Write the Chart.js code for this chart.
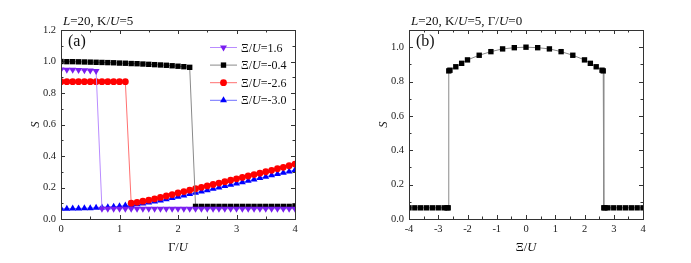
<!DOCTYPE html>
<html lang="en">
<head>
<meta charset="UTF-8" />
<title>S vs Gamma/U and Xi/U</title>
<style>
  * { margin: 0; padding: 0; }
  body { background: #fff; width: 691px; height: 263px; position: relative; overflow: hidden; }
  .box { position: absolute; top: 0; height: 263px; }
</style>
</head>
<body>
<div class="box" style="left:0;width:345px"><canvas id="chartA" width="345" height="263"></canvas></div>
<div class="box" style="left:345px;width:346px"><canvas id="chartB" width="346" height="263"></canvas></div>

<script src="https://cdn.jsdelivr.net/npm/chart.js"></script>
<script>
// ---- panel (a) data: S vs Gamma/U ----
const gamma = [0, 0.1, 0.2, 0.3, 0.4, 0.5, 0.6, 0.7, 0.8, 0.9, 1.0,
  1.1, 1.2, 1.3, 1.4, 1.5, 1.6, 1.7, 1.8, 1.9, 2.0,
  2.1, 2.2, 2.3, 2.4, 2.5, 2.6, 2.7, 2.8, 2.9, 3.0,
  3.1, 3.2, 3.3, 3.4, 3.5, 3.6, 3.7, 3.8, 3.9, 4.0];

const legendXi = ['1.6', '-0.4', '-2.6', '-3.0'];

const sXi16 = [0.950, 0.948, 0.947, 0.946, 0.945, 0.943, 0.940,
  0.065, 0.065, 0.065, 0.065, 0.065, 0.065, 0.065, 0.065, 0.065, 0.065,
  0.065, 0.065, 0.065, 0.065, 0.065, 0.065, 0.065, 0.065, 0.065, 0.065,
  0.065, 0.065, 0.065, 0.065, 0.065, 0.065, 0.065, 0.065, 0.065, 0.065,
  0.065, 0.065, 0.065, 0.065];
const sXiM04 = [1.000, 0.999, 0.999, 0.998, 0.997, 0.996, 0.995, 0.994, 0.993, 0.992, 0.990,
  0.989, 0.987, 0.986, 0.984, 0.982, 0.980, 0.978, 0.976, 0.973, 0.970,
  0.967, 0.963,
  0.080, 0.080, 0.080, 0.080, 0.080, 0.080, 0.080, 0.080,
  0.080, 0.080, 0.080, 0.080, 0.080, 0.080, 0.080, 0.080, 0.080, 0.080];
const sXiM26 = [0.872, 0.872, 0.872, 0.872, 0.872, 0.872, 0.872, 0.872, 0.872, 0.872, 0.872, 0.872,
  0.100, 0.106, 0.113, 0.120, 0.128, 0.137, 0.146, 0.155, 0.165,
  0.174, 0.183, 0.192, 0.201, 0.210, 0.219, 0.228, 0.237, 0.246, 0.255,
  0.264, 0.273, 0.282, 0.291, 0.300, 0.309, 0.319, 0.328, 0.338, 0.349];
const sXiM30 = [0.065, 0.065, 0.066, 0.067, 0.068, 0.069, 0.071, 0.073, 0.075, 0.078, 0.081,
  0.085, 0.089, 0.094, 0.099, 0.105, 0.111, 0.118, 0.126, 0.134, 0.142,
  0.150, 0.158, 0.166, 0.175, 0.183, 0.192, 0.200, 0.209, 0.217, 0.226,
  0.234, 0.243, 0.251, 0.260, 0.268, 0.277, 0.285, 0.294, 0.302, 0.311];

// ---- panel (b) data: S vs Xi/U at Gamma/U = 0 ----
const xi = [-4, -3.8, -3.6, -3.4, -3.2, -3.0, -2.8, -2.7, -2.66,
  -2.64, -2.6, -2.4, -2.2, -2.0, -1.6, -1.2, -0.8, -0.4, 0, 0.4, 0.8, 1.2, 1.6, 2.0, 2.2, 2.4, 2.6, 2.64,
  2.66, 2.7, 2.8, 3.0, 3.2, 3.4, 3.6, 3.8, 4.0];
const sXi = [0.065, 0.065, 0.065, 0.065, 0.065, 0.065, 0.065, 0.065, 0.065,
  0.862, 0.866, 0.886, 0.906, 0.926, 0.953, 0.974, 0.990, 0.997, 1.000, 0.997, 0.990, 0.974, 0.953, 0.926, 0.906, 0.886, 0.866, 0.862,
  0.065, 0.065, 0.065, 0.065, 0.065, 0.065, 0.065, 0.065, 0.065];

const SERIF = '"Liberation Serif", "DejaVu Serif", serif';
const pts = (xs, ys) => xs.map((v, i) => ({ x: v, y: ys[i] }));

// text made of upright / italic pieces
function drawRich(ctx, parts, x, y, size, align) {
  let w = 0;
  parts.forEach(([t, it]) => { ctx.font = (it ? 'italic ' : '') + size + 'px ' + SERIF; w += ctx.measureText(t).width; });
  let cx = align === 'center' ? x - w / 2 : x;
  ctx.textAlign = 'left';
  ctx.textBaseline = 'alphabetic';
  parts.forEach(([t, it]) => {
    ctx.font = (it ? 'italic ' : '') + size + 'px ' + SERIF;
    ctx.fillText(t, cx, y);
    cx += ctx.measureText(t).width;
  });
}

function drawMarker(ctx, style, x, y, r, color) {
  ctx.fillStyle = color;
  ctx.beginPath();
  if (style === 'rect') {
    const s = r * Math.SQRT1_2;
    ctx.rect(x - s, y - s, 2 * s, 2 * s);
  } else if (style === 'circle') {
    ctx.arc(x, y, r, 0, Math.PI * 2);
  } else {
    const d = style === 'down' ? -1 : 1;
    ctx.moveTo(x, y - d * r);
    ctx.lineTo(x - r * 0.87, y + d * r * 0.5);
    ctx.lineTo(x + r * 0.87, y + d * r * 0.5);
    ctx.closePath();
  }
  ctx.fill();
}

// frame with inward major/minor ticks on all four sides
const frameTicks = {
  id: 'frameTicks',
  afterDraw(chart, args, o) {
    const { ctx, chartArea: a, scales: { x, y } } = chart;
    ctx.save();
    ctx.strokeStyle = '#333';
    ctx.lineWidth = 1;
    ctx.beginPath();
    const eps = 1e-6;
    for (let v = x.min; v <= x.max + eps; v += o.xMinor) {
      const px = Math.round(x.getPixelForValue(v)) + 0.5;
      const major = Math.abs(v / o.xMajor - Math.round(v / o.xMajor)) < 1e-3;
      const len = major ? 4 : 2.5;
      ctx.moveTo(px, a.bottom); ctx.lineTo(px, a.bottom - len);
      ctx.moveTo(px, a.top); ctx.lineTo(px, a.top + len);
    }
    for (let v = y.min; v <= y.max + eps; v += o.yMinor) {
      const py = Math.round(y.getPixelForValue(v)) + 0.5;
      const major = Math.abs(v / o.yMajor - Math.round(v / o.yMajor)) < 1e-3;
      const len = major ? 4 : 2.5;
      ctx.moveTo(a.left, py); ctx.lineTo(a.left + len, py);
      ctx.moveTo(a.right, py); ctx.lineTo(a.right - len, py);
    }
    ctx.stroke();
    ctx.strokeRect(Math.round(a.left) + 0.5, Math.round(a.top) + 0.5,
      Math.round(a.right - a.left), Math.round(a.bottom - a.top));
    ctx.restore();
  }
};

// titles, panel letter, axis titles
const annotations = {
  id: 'annotations',
  afterDraw(chart, args, o) {
    const { ctx, chartArea: a } = chart;
    ctx.save();
    ctx.fillStyle = '#111';
    drawRich(ctx, o.title, a.left + 2, 25, 13, 'left');
    drawRich(ctx, [[o.panel, false]], a.left + 7, 46, 16, 'left');
    drawRich(ctx, o.xTitle, (a.left + a.right) / 2, 251, 12.5, 'center');
    ctx.translate(a.left - 22, (a.top + a.bottom) / 2);
    ctx.rotate(-Math.PI / 2);
    drawRich(ctx, [['S', true]], 0, 0, 12.5, 'center');
    ctx.restore();
  }
};

// legend inside panel (a)
const insideLegend = {
  id: 'insideLegend',
  afterDraw(chart, args, o) {
    if (!o.show) return;
    const { ctx } = chart;
    ctx.save();
    chart.data.datasets.forEach((ds, i) => {
      const cy = 47.5 + i * 17.6;
      ctx.strokeStyle = ds.borderColor;
      ctx.lineWidth = 1;
      ctx.beginPath();
      ctx.moveTo(210, cy); ctx.lineTo(237, cy);
      ctx.stroke();
      drawMarker(ctx, ds.legendMarker, 223.5, cy, ds.pointRadius, ds.pointBackgroundColor);
      ctx.fillStyle = '#111';
      drawRich(ctx, [['\u039E/', false], ['U', true], ['=' + legendXi[i], false]], 241, cy + 4, 12, 'left');
    });
    ctx.restore();
  }
};

function series(label, ys, fill, line, style, rot, marker, r) {
  return {
    label, data: pts(gamma, ys),
    showLine: true, tension: 0,
    borderColor: line, borderWidth: 1,
    pointBackgroundColor: fill, pointBorderColor: fill, pointBorderWidth: 0,
    pointStyle: style, pointRotation: rot, pointRadius: r,
    legendMarker: marker
  };
}

function baseOptions(xMin, xMax, yMax, yWidth, padRight, extra) {
  return {
    responsive: false,
    animation: false,
    layout: { padding: { left: 0, right: padRight, top: 30, bottom: 0 } },
    plugins: {
      legend: { display: false },
      tooltip: { enabled: false },
      frameTicks: { xMinor: 0.5, xMajor: 1, yMinor: 0.1, yMajor: 0.2 },
      ...extra
    },
    scales: {
      x: {
        type: 'linear', min: xMin, max: xMax,
        grid: { display: false, drawTicks: false },
        border: { display: false },
        ticks: { stepSize: 1, padding: 4, color: '#222', font: { family: SERIF, size: 10.5 }, includeBounds: false },
        afterFit: (s) => { s.height = 44; }
      },
      y: {
        type: 'linear', min: 0, max: yMax,
        grid: { display: false, drawTicks: false },
        border: { display: false },
        ticks: { stepSize: 0.2, padding: 5, color: '#222', font: { family: SERIF, size: 10.5 }, includeBounds: false,
          callback: (v) => v.toFixed(1) },
        afterFit: (s) => { s.width = yWidth; }
      }
    }
  };
}

// panel (a)
new Chart(document.getElementById('chartA'), {
  type: 'scatter',
  data: {
    datasets: [
      series('Xi/U=1.6', sXi16, '#7a1ef0', '#b98cff', 'triangle', 180, 'down', 4),
      series('Xi/U=-0.4', sXiM04, '#000000', '#8a8a8a', 'rect', 0, 'rect', 3.8),
      series('Xi/U=-2.6', sXiM26, '#ff0000', '#ff7070', 'circle', 0, 'circle', 3.4),
      series('Xi/U=-3.0', sXiM30, '#0000ff', '#7070ff', 'triangle', 0, 'up', 4)
    ]
  },
  options: baseOptions(0, 4, 1.2, 61, 50, {
    annotations: {
      title: [['L', true], ['=20, K/', false], ['U', true], ['=5', false]],
      panel: '(a)',
      xTitle: [['\u0393/', false], ['U', true]]
    },
    insideLegend: { show: true }
  }),
  plugins: [frameTicks, annotations, insideLegend]
});

// panel (b)
new Chart(document.getElementById('chartB'), {
  type: 'scatter',
  data: {
    datasets: [{
      label: 'S',
      data: pts(xi, sXi),
      showLine: true, tension: 0,
      borderColor: '#8a8a8a', borderWidth: 1,
      pointBackgroundColor: '#000', pointBorderColor: '#000', pointBorderWidth: 0,
      pointStyle: 'rect', pointRadius: 3.8
    }]
  },
  options: baseOptions(-4, 4, 1.1, 64, 48, {
    annotations: {
      title: [['L', true], ['=20, K/', false], ['U', true], ['=5, \u0393/', false], ['U', true], ['=0', false]],
      panel: '(b)',
      xTitle: [['\u039E/', false], ['U', true]]
    },
    insideLegend: { show: false }
  }),
  plugins: [frameTicks, annotations, insideLegend]
});
</script>
</body>
</html>
